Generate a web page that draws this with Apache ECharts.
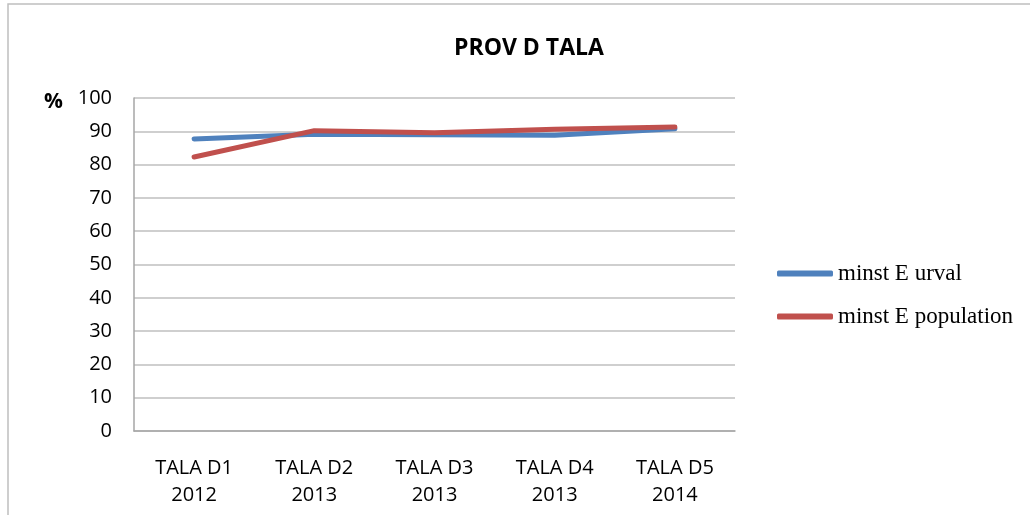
<!DOCTYPE html>
<html>
<head>
<meta charset="utf-8">
<script src="https://cdn.jsdelivr.net/npm/echarts@6/dist/echarts.min.js"></script>
<style>
  html, body { margin: 0; padding: 0; background: #fff; }
  #main { width: 1030px; height: 515px; }
</style>
</head>
<body>
<div id="main"></div>
<script>
// data
const categories = ['TALA D1\n2012', 'TALA D2\n2013', 'TALA D3\n2013', 'TALA D4\n2013', 'TALA D5\n2014'];
const urval = [87.7, 89.1, 89.0, 88.8, 90.8];
const population = [82.3, 90.2, 89.6, 90.6, 91.3];

const myChart = echarts.init(document.getElementById('main'));

const option = {
  animation: false,
  backgroundColor: '#fff',
  title: {
    text: 'PROV D TALA',
    left: 449,
    top: 32,
    textStyle: { fontFamily: 'Open Sans', fontSize: 23, fontWeight: 'bold', color: '#000' }
  },
  graphic: [
    {
      type: 'rect',
      shape: { x: 8, y: 4, width: 1040, height: 530 },
      style: { fill: 'none', stroke: '#bfbfbf', lineWidth: 1.5 }
    },
    {
      type: 'text',
      left: 44,
      top: 92,
      style: { text: '%', font: 'bold 21px "Open Sans"', fill: '#000' }
    }
  ],
  legend: {
    orient: 'vertical',
    left: 772,
    top: 257,
    itemWidth: 56,
    itemHeight: 6,
    itemGap: 20,
    icon: 'roundRect',
    textStyle: { fontFamily: 'Liberation Serif', fontSize: 23, color: '#000' },
    data: ['minst E urval', 'minst E population']
  },
  grid: { left: 134, right: 295, top: 98, bottom: 84 },
  xAxis: {
    type: 'category',
    data: categories,
    boundaryGap: true,
    axisLine: { lineStyle: { color: '#a6a6a6', width: 1.5 } },
    axisTick: { show: false },
    axisLabel: {
      margin: 24,
      fontFamily: 'Open Sans',
      fontSize: 20,
      color: '#000',
      lineHeight: 27,
      interval: 0
    }
  },
  yAxis: {
    type: 'value',
    min: 0,
    max: 100,
    interval: 10,
    axisLine: { show: true, lineStyle: { color: '#a6a6a6', width: 1.5 } },
    axisTick: { show: false },
    splitLine: { lineStyle: { color: '#bfbfbf', width: 1.5 } },
    axisLabel: { margin: 22, fontFamily: 'Open Sans', fontSize: 20, color: '#000' }
  },
  series: [
    {
      name: 'minst E urval',
      type: 'line',
      data: urval,
      symbol: 'none',
      lineStyle: { width: 5, color: '#4F81BD', cap: 'round', join: 'round' },
      itemStyle: { color: '#4F81BD' }
    },
    {
      name: 'minst E population',
      type: 'line',
      data: population,
      symbol: 'none',
      lineStyle: { width: 5, color: '#C0504D', cap: 'round', join: 'round' },
      itemStyle: { color: '#C0504D' }
    }
  ]
};

myChart.setOption(option);
</script>
</body>
</html>
